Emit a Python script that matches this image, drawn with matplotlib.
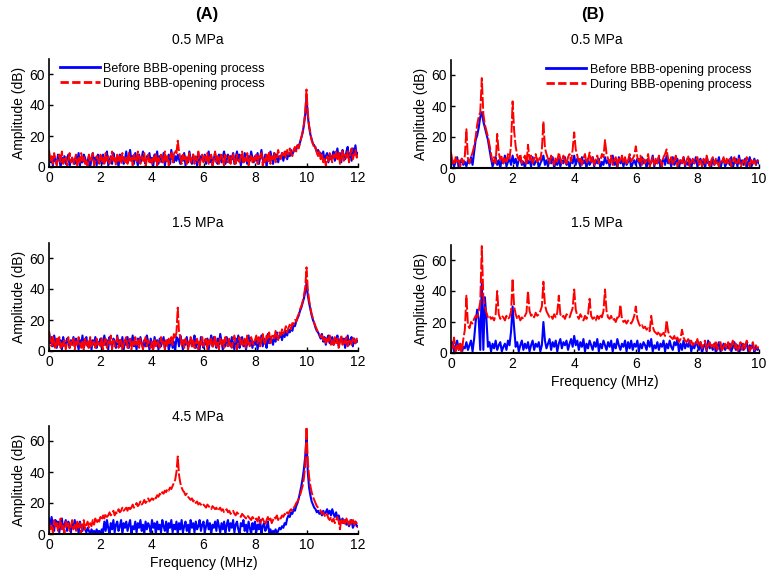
import numpy as np
import matplotlib.pyplot as plt
from matplotlib.lines import Line2D

plt.rcParams['font.family'] = ['Liberation Sans', 'DejaVu Sans']

# spectra, one row of 20 values = 1 MHz (step 0.05 MHz)
a05_before = [9, 3, 6, 1, 7, 4, 2, 8, 5, 0, 6, 3, 7, 2, 5, 8, 1, 4, 6, 3,
              2, 7, 4, 9, 1, 5, 3, 8, 6, 2, 4, 7, 0, 5, 9, 3, 6, 1, 8, 4,
              5, 2, 8, 3, 6, 10, 1, 4, 7, 2, 9, 5, 3, 6, 0, 8, 4, 7, 2, 5,
              10, 3, 6, 11, 4, 7, 2, 9, 5, 1, 8, 3, 6, 10, 4, 2, 7, 5, 9, 3,
              6, 1, 8, 4, 10, 2, 7, 5, 3, 9, 1, 6, 4, 8, 2, 11, 5, 3, 7, 4,
              8, 5, 2, 7, 4, 9, 1, 6, 3, 10, 5, 2, 8, 4, 6, 1, 9, 3, 7, 5,
              4, 8, 2, 6, 10, 3, 7, 1, 5, 9, 4, 2, 8, 6, 3, 7, 10, 2, 5, 8,
              3, 7, 5, 9, 2, 6, 10, 4, 8, 1, 6, 3, 9, 5, 2, 7, 4, 10, 6, 3,
              7, 4, 9, 2, 6, 11, 5, 3, 8, 0, 7, 4, 10, 6, 2, 9, 5, 8, 3, 7,
              6, 9, 4, 8, 10, 5, 9, 7, 11, 8, 10, 12, 11, 14, 13, 16, 19, 22, 27, 34,
              45, 33, 26, 21, 18, 15, 14, 12, 10, 11, 8, 9, 6, 10, 4, 7, 9, 3, 8, 5,
              7, 10, 4, 8, 12, 6, 9, 3, 11, 7, 5, 10, 13, 6, 9, 4, 12, 8, 14, 7,
              9]
a05_during = [11, 4, 7, 2, 9, 5, 1, 6, 8, 3, 10, 2, 5, 7, 1, 4, 9, 3, 6, 2,
              5, 8, 1, 6, 3, 9, 4, 7, 2, 5, 0, 8, 3, 6, 9, 1, 4, 7, 5, 2,
              8, 3, 6, 1, 9, 4, 7, 2, 5, 10, 3, 6, 1, 8, 4, 7, 2, 9, 5, 3,
              6, 2, 9, 4, 7, 1, 8, 5, 3, 10, 6, 2, 7, 4, 9, 0, 5, 8, 3, 6,
              2, 7, 4, 9, 1, 6, 3, 8, 5, 2, 10, 4, 7, 1, 6, 9, 3, 8, 11, 9,
              17, 10, 6, 2, 8, 4, 7, 1, 5, 9, 3, 6, 8, 2, 7, 4, 10, 1, 5, 8,
              3, 7, 4, 9, 2, 6, 8, 1, 5, 10, 3, 7, 2, 6, 9, 4, 1, 8, 5, 3,
              7, 2, 6, 9, 4, 1, 8, 5, 3, 7, 10, 2, 6, 4, 9, 1, 5, 8, 3, 6,
              4, 8, 2, 7, 5, 9, 1, 6, 3, 8, 4, 10, 2, 7, 5, 9, 3, 6, 11, 7,
              5, 9, 7, 10, 6, 11, 8, 12, 9, 7, 11, 13, 10, 14, 12, 16, 19, 23, 28, 35,
              50, 35, 27, 22, 17, 15, 12, 13, 9, 7, 10, 5, 8, 3, 6, 1, 7, 4, 9, 6,
              3, 8, 6, 10, 5, 9, 2, 7, 11, 4, 8, 6, 10, 3, 9, 12, 5, 8, 11, 6,
              8]

a15_before = [12, 5, 9, 3, 10, 6, 2, 8, 4, 7, 1, 9, 5, 3, 8, 6, 2, 7, 4, 9,
              3, 8, 5, 1, 7, 4, 10, 2, 6, 9, 3, 5, 8, 1, 7, 4, 9, 2, 6, 5,
              8, 2, 6, 10, 4, 7, 1, 9, 5, 3, 8, 6, 2, 10, 4, 7, 3, 9, 1, 6,
              4, 9, 2, 7, 5, 10, 3, 6, 1, 8, 4, 9, 5, 2, 7, 3, 10, 6, 1, 8,
              5, 2, 9, 4, 7, 1, 8, 3, 6, 9, 2, 5, 7, 1, 4, 8, 2, 6, 0, 9,
              8, 3, 10, 6, 1, 7, 4, 9, 2, 5, 8, 3, 6, 10, 2, 7, 4, 1, 9, 5,
              2, 7, 4, 8, 1, 6, 10, 3, 9, 5, 2, 8, 4, 11, 6, 1, 7, 3, 9, 5,
              7, 3, 9, 5, 1, 8, 4, 10, 2, 6, 9, 3, 7, 1, 5, 10, 4, 8, 2, 6,
              4, 9, 1, 7, 5, 10, 3, 8, 6, 2, 11, 5, 9, 7, 4, 10, 6, 12, 8, 9,
              11, 7, 12, 9, 13, 10, 14, 12, 15, 13, 17, 16, 19, 21, 23, 26, 28, 31, 34, 38,
              44, 36, 31, 27, 23, 20, 18, 15, 13, 12, 10, 8, 11, 6, 9, 4, 8, 10, 5, 7,
              9, 4, 8, 6, 10, 3, 7, 9, 5, 8, 2, 6, 10, 4, 7, 9, 3, 8, 5, 7,
              6]
a15_during = [13, 7, 3, 10, 5, 1, 8, 4, 9, 2, 6, 3, 7, 1, 5, 9, 2, 6, 4, 8,
              1, 6, 3, 9, 5, 2, 7, 0, 8, 4, 6, 1, 9, 3, 5, 7, 2, 8, 4, 6,
              3, 9, 1, 5, 8, 2, 6, 4, 10, 1, 7, 3, 5, 9, 2, 6, 8, 0, 4, 7,
              9, 2, 5, 8, 1, 6, 3, 9, 4, 7, 2, 8, 5, 1, 6, 9, 3, 7, 4, 2,
              6, 1, 8, 3, 7, 5, 2, 9, 4, 6, 1, 7, 3, 8, 5, 9, 4, 11, 8, 12,
              28, 12, 9, 4, 7, 2, 8, 5, 1, 6, 9, 3, 7, 2, 5, 8, 1, 6, 4, 9,
              3, 6, 9, 1, 7, 4, 8, 2, 5, 10, 3, 6, 1, 8, 4, 7, 2, 9, 5, 3,
              8, 4, 2, 7, 10, 5, 1, 6, 9, 3, 7, 4, 8, 2, 10, 5, 3, 9, 6, 4,
              7, 10, 5, 9, 3, 8, 11, 6, 4, 10, 7, 12, 5, 9, 11, 8, 13, 10, 7, 12,
              10, 14, 11, 13, 16, 12, 15, 17, 14, 18, 17, 20, 19, 22, 24, 27, 29, 32, 36, 41,
              54, 40, 33, 28, 24, 21, 18, 16, 14, 12, 11, 9, 10, 7, 9, 5, 8, 6, 10, 4,
              7, 3, 9, 5, 8, 2, 6, 10, 4, 7, 5, 9, 3, 8, 6, 4, 9, 7, 5, 8,
              6]

a45_before = [10, 4, 11, 6, 2, 9, 5, 8, 1, 7, 10, 3, 6, 9, 2, 8, 5, 1, 7, 4,
              9, 3, 7, 0, 8, 5, 2, 6, 3, 1, 4, 2, 0, 3, 1, 2, 0, 3, 1, 2,
              0, 3, 1, 8, 2, 9, 4, 0, 7, 3, 9, 1, 6, 8, 2, 5, 9, 0, 7, 4,
              8, 2, 6, 9, 0, 5, 3, 8, 1, 7, 4, 9, 2, 6, 0, 8, 3, 7, 5, 1,
              9, 4, 7, 0, 8, 3, 6, 1, 9, 5, 2, 8, 0, 7, 4, 9, 1, 6, 3, 8,
              0, 7, 3, 9, 1, 5, 8, 2, 6, 0, 9, 4, 7, 1, 8, 3, 5, 9, 2, 6,
              8, 1, 5, 9, 3, 7, 0, 6, 4, 8, 2, 9, 5, 1, 7, 3, 8, 0, 6, 9,
              2, 7, 4, 9, 1, 6, 8, 3, 0, 7, 5, 9, 2, 6, 1, 8, 4, 0, 7, 3,
              8, 1, 6, 3, 9, 0, 5, 7, 2, 4, 8, 1, 3, 0, 2, 1, 3, 0, 2, 4,
              3, 5, 4, 7, 6, 10, 12, 11, 14, 13, 16, 15, 18, 20, 23, 27, 31, 36, 42, 50,
              62, 40, 30, 25, 21, 19, 17, 16, 14, 15, 13, 14, 12, 15, 13, 14, 16, 13, 15, 12,
              16, 13, 11, 14, 10, 12, 9, 8, 10, 7, 9, 6, 8, 5, 7, 9, 4, 6, 8, 5,
              5]
a45_during = [8, 3, 6, 1, 9, 4, 7, 2, 5, 10, 3, 6, 0, 8, 4, 7, 2, 5, 9, 3,
              6, 2, 8, 4, 7, 1, 5, 9, 3, 6, 8, 4, 7, 5, 9, 6, 10, 7, 9, 8,
              11, 9, 12, 10, 13, 11, 12, 14, 12, 13, 15, 12, 14, 13, 16, 14, 15, 17, 15, 16,
              17, 15, 18, 16, 17, 19, 17, 18, 20, 18, 19, 21, 19, 20, 22, 20, 21, 23, 21, 22,
              23, 22, 24, 23, 25, 24, 26, 25, 27, 26, 28, 27, 29, 28, 30, 29, 31, 33, 35, 40,
              50, 38, 33, 30, 28, 27, 25, 26, 24, 23, 22, 23, 21, 22, 20, 21, 19, 20, 19, 18,
              19, 18, 17, 19, 18, 17, 16, 18, 17, 16, 17, 15, 16, 17, 15, 16, 14, 15, 16, 14,
              15, 13, 14, 15, 13, 12, 14, 13, 12, 11, 13, 12, 11, 10, 12, 11, 10, 9, 11, 10,
              9, 10, 8, 11, 7, 9, 10, 8, 6, 9, 11, 8, 10, 7, 9, 11, 10, 12, 9, 11,
              10, 12, 11, 13, 12, 14, 13, 15, 16, 15, 17, 18, 20, 21, 23, 25, 28, 31, 36, 44,
              69, 47, 37, 31, 27, 24, 22, 20, 18, 17, 16, 15, 13, 14, 12, 11, 13, 10, 9, 11,
              8, 10, 7, 9, 11, 8, 3, 10, 7, 9, 6, 10, 8, 5, 9, 7, 10, 6, 8, 7,
              4]

b05_before = [2, 5, 1, 4, 7, 0, 3, 6, 2, 4, 1, 5, 3, 7, 2, 10, 18, 21, 26, 33,
              36, 30, 26, 22, 18, 12, 6, 1, 4, 7, 2, 5, 0, 6, 3, 8, 1, 4, 6, 2,
              8, 3, 6, 1, 5, 7, 2, 4, 0, 6, 3, 5, 1, 7, 2, 4, 6, 0, 3, 5,
              8, 2, 5, 1, 6, 3, 7, 0, 4, 2, 6, 1, 5, 3, 7, 2, 4, 0, 6, 3,
              8, 2, 6, 4, 1, 7, 3, 5, 0, 6, 2, 4, 7, 1, 5, 3, 6, 0, 4, 2,
              7, 3, 5, 1, 6, 8, 2, 4, 0, 7, 3, 5, 1, 6, 2, 4, 7, 0, 3, 5,
              2, 6, 4, 1, 7, 3, 5, 0, 6, 2, 4, 8, 1, 5, 3, 7, 0, 4, 6, 2,
              8, 3, 5, 1, 7, 2, 4, 6, 0, 5, 3, 7, 1, 4, 2, 6, 0, 5, 3, 7,
              1, 4, 6, 2, 5, 0, 7, 3, 4, 1, 6, 2, 5, 3, 7, 0, 4, 6, 1, 3,
              5, 2, 7, 0, 4, 6, 1, 8, 3, 5, 2, 6, 0, 4, 7, 1, 3, 6, 2, 5,
              3]
b05_during = [10, 4, 2, 7, 3, 5, 1, 6, 3, 8, 25, 6, 3, 7, 10, 14, 20, 28, 33, 36,
              58, 35, 28, 24, 20, 15, 9, 4, 7, 3, 22, 10, 5, 8, 3, 7, 4, 9, 6, 15,
              43, 24, 14, 8, 5, 9, 3, 6, 8, 2, 15, 5, 8, 3, 6, 9, 4, 7, 5, 12,
              30, 13, 9, 6, 3, 8, 5, 2, 7, 4, 10, 6, 3, 8, 5, 2, 7, 9, 4, 12,
              23, 12, 8, 4, 7, 2, 6, 9, 3, 5, 10, 4, 7, 2, 6, 8, 3, 5, 9, 7,
              18, 9, 6, 3, 8, 2, 5, 7, 1, 6, 4, 8, 3, 7, 2, 5, 9, 4, 6, 8,
              14, 7, 4, 8, 2, 6, 3, 5, 9, 1, 4, 7, 2, 6, 3, 8, 5, 1, 7, 9,
              12, 6, 3, 7, 2, 5, 8, 1, 4, 6, 3, 7, 2, 5, 8, 1, 4, 6, 3, 5,
              7, 2, 5, 1, 6, 3, 8, 4, 0, 5, 7, 2, 6, 3, 1, 5, 4, 7, 2, 6,
              3, 6, 1, 5, 7, 2, 4, 6, 0, 3, 5, 2, 7, 4, 1, 6, 3, 5, 2, 4,
              5]

b15_before = [3, 7, 1, 5, 8, 2, 6, 0, 4, 3, 7, 2, 5, 8, 1, 9, 20, 28, 22, 2,
              45, 2, 36, 22, 4, 7, 1, 6, 3, 8, 2, 5, 7, 1, 4, 6, 2, 8, 5, 14,
              30, 16, 4, 7, 1, 5, 8, 2, 6, 3, 7, 1, 5, 8, 2, 6, 4, 7, 1, 5,
              20, 8, 3, 6, 9, 2, 7, 4, 8, 1, 6, 9, 3, 7, 5, 8, 2, 6, 9, 4,
              11, 5, 8, 2, 7, 4, 9, 1, 6, 3, 8, 5, 2, 7, 4, 9, 1, 6, 3, 8,
              5, 2, 7, 4, 8, 1, 6, 3, 9, 5, 2, 6, 4, 8, 1, 7, 3, 8, 2, 6,
              4, 8, 1, 6, 3, 7, 5, 2, 8, 4, 9, 1, 5, 3, 7, 2, 6, 4, 8, 1,
              6, 3, 8, 4, 2, 7, 5, 9, 1, 6, 2, 8, 3, 6, 4, 8, 1, 5, 3, 7,
              5, 2, 7, 0, 4, 6, 1, 8, 3, 5, 2, 6, 0, 4, 7, 1, 3, 6, 2, 5,
              3, 6, 1, 4, 7, 2, 5, 0, 3, 6, 2, 4, 7, 1, 5, 3, 6, 0, 4, 2,
              3]
b15_during = [8, 3, 10, 1, 6, 2, 7, 0, 9, 15, 37, 18, 16, 20, 19, 22, 24, 23, 27, 33,
              69, 36, 30, 26, 23, 24, 22, 23, 21, 25, 40, 25, 22, 24, 23, 21, 24, 22, 23, 27,
              48, 30, 25, 22, 24, 21, 23, 22, 24, 26, 40, 27, 24, 25, 23, 26, 24, 25, 27, 30,
              46, 31, 27, 25, 23, 24, 22, 25, 23, 26, 37, 25, 23, 24, 22, 25, 24, 23, 26, 29,
              41, 28, 24, 22, 25, 23, 21, 24, 22, 25, 35, 24, 22, 23, 21, 24, 22, 25, 23, 27,
              41, 27, 23, 22, 24, 21, 22, 20, 23, 22, 31, 22, 20, 21, 19, 21, 20, 19, 21, 24,
              30, 22, 19, 17, 18, 16, 17, 15, 16, 14, 24, 17, 14, 13, 12, 14, 11, 12, 13, 11,
              21, 14, 11, 10, 9, 11, 8, 10, 7, 9, 15, 10, 8, 7, 9, 6, 8, 5, 7, 6,
              9, 5, 7, 3, 6, 8, 2, 5, 7, 4, 6, 3, 8, 2, 5, 7, 1, 4, 6, 3,
              7, 2, 5, 8, 3, 6, 1, 4, 7, 2, 6, 3, 8, 5, 1, 4, 7, 2, 5, 3,
              4]

W, H = 771, 581


def add_panel(fig, left, right, bottom, xmax, xticks):
    # axes placed in pixel coordinates of the reference (y = 0..70)
    top = bottom - 108.5
    ax = fig.add_axes([left / W, 1 - bottom / H, (right - left) / W, (bottom - top) / H])
    ax.set_xlim(0, xmax)
    ax.set_ylim(0, 70)
    ax.set_xticks(xticks)
    ax.set_yticks([0, 20, 40, 60])
    ax.spines['top'].set_visible(False)
    ax.spines['right'].set_visible(False)
    ax.spines['left'].set_linewidth(1.2)
    ax.spines['bottom'].set_linewidth(1.5)
    ax.tick_params(direction='in', length=3, width=1, labelsize=10, pad=3)
    ax.set_ylabel('Amplitude (dB)', fontsize=10, labelpad=2)
    return ax


def draw(ax, xmax, before, during):
    xb = np.linspace(0, xmax, len(before))
    xd = np.linspace(0, xmax, len(during))
    ax.plot(xb, before, color='blue', lw=1.5)
    ax.plot(xd, during, color='red', lw=1.4, linestyle=(0, (6, 1.2)))


fig = plt.figure(figsize=(W / 100, H / 100), dpi=100)

a_ticks = [0, 2, 4, 6, 8, 10, 12]
b_ticks = [0, 2, 4, 6, 8, 10]

ax1 = add_panel(fig, 49, 358, 167, 12, a_ticks)
draw(ax1, 12, a05_before, a05_during)
ax2 = add_panel(fig, 49, 358, 351, 12, a_ticks)
draw(ax2, 12, a15_before, a15_during)
ax3 = add_panel(fig, 49, 358, 534, 12, a_ticks)
draw(ax3, 12, a45_before, a45_during)
ax3.set_xlabel('Frequency (MHz)', fontsize=10, labelpad=3)

bx1 = add_panel(fig, 451, 759, 168, 10, b_ticks)
draw(bx1, 10, b05_before, b05_during)
bx2 = add_panel(fig, 451, 759, 353, 10, b_ticks)
draw(bx2, 10, b15_before, b15_during)
bx2.set_xlabel('Frequency (MHz)', fontsize=10, labelpad=3)

handles = [Line2D([], [], color='blue', lw=2),
           Line2D([], [], color='red', lw=2, linestyle=(0, (3, 1.2)))]
labels = ['Before BBB-opening process', 'During BBB-opening process']
ax1.legend(handles, labels, loc='upper left', bbox_to_anchor=(0.01, 1.03), frameon=False,
           fontsize=9, handlelength=3.2, handletextpad=0.3, labelspacing=0.25, borderpad=0.1)
bx1.legend(handles, labels, loc='upper right', bbox_to_anchor=(1.0, 1.03), frameon=False,
           fontsize=9, handlelength=3.2, handletextpad=0.3, labelspacing=0.25, borderpad=0.1)

# panel headings
fig.text(207 / W, 1 - 15 / H, '(A)', ha='center', va='center', fontsize=12, fontweight='bold')
fig.text(593 / W, 1 - 15 / H, '(B)', ha='center', va='center', fontsize=12, fontweight='bold')
for x, y, s in [(198, 40, '0.5 MPa'), (198, 223, '1.5 MPa'), (198, 417, '4.5 MPa'),
                (597, 40, '0.5 MPa'), (597, 223, '1.5 MPa')]:
    fig.text(x / W, 1 - y / H, s, ha='center', va='center', fontsize=10)

fig.savefig('out.png', dpi=100)
